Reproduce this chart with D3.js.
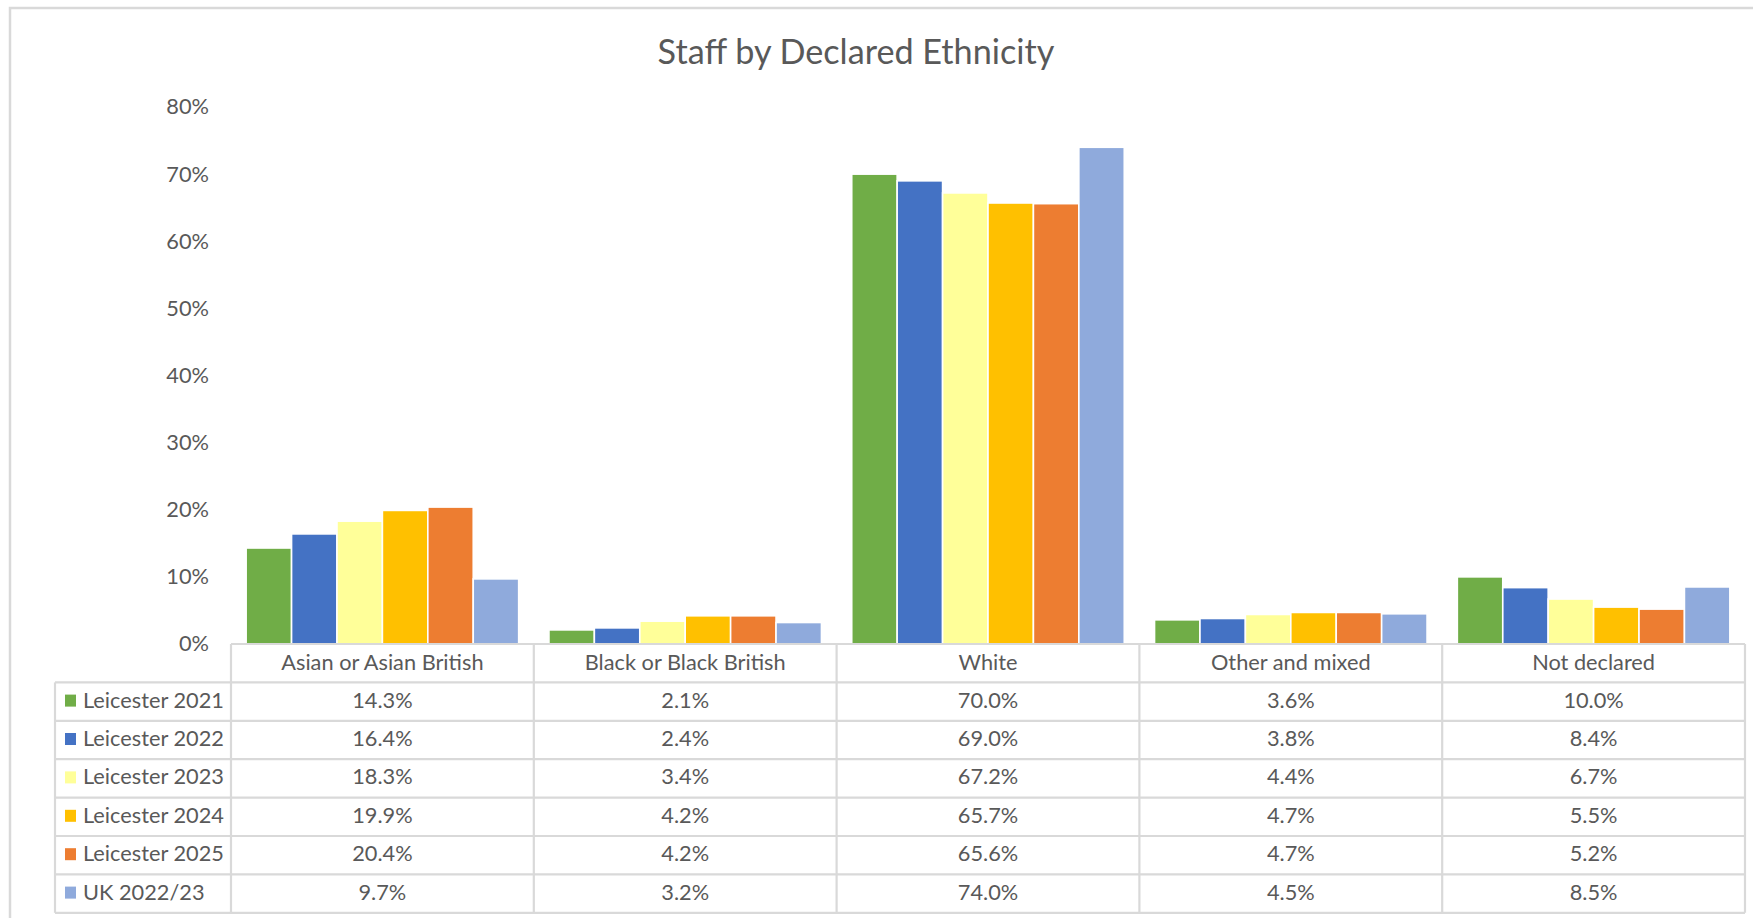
<!DOCTYPE html>
<html>
<head>
<meta charset="utf-8">
<script src="https://cdn.jsdelivr.net/npm/d3@7"></script>
<style>
  body { margin: 0; background: #fff; }
  svg { display: block; font-family: Lato, "Open Sans", sans-serif; }
</style>
</head>
<body>
<svg class="chart"></svg>
<script>
var categories = ["Asian or Asian British", "Black or Black British", "White", "Other and mixed", "Not declared"];
var seriesNames = ["Leicester 2021", "Leicester 2022", "Leicester 2023", "Leicester 2024", "Leicester 2025", "UK 2022/23"];
var leicester2021 = [14.3, 2.1, 70.0, 3.6, 10.0];
var leicester2022 = [16.4, 2.4, 69.0, 3.8, 8.4];
var leicester2023 = [18.3, 3.4, 67.2, 4.4, 6.7];
var leicester2024 = [19.9, 4.2, 65.7, 4.7, 5.5];
var leicester2025 = [20.4, 4.2, 65.6, 4.7, 5.2];
var uk2022 = [9.7, 3.2, 74.0, 4.5, 8.5];
var yTicks = [0, 10, 20, 30, 40, 50, 60, 70, 80];
var colors = ["#70ad47", "#4472c4", "#ffff99", "#ffc000", "#ed7d31", "#8faadc"];

var series = [leicester2021, leicester2022, leicester2023, leicester2024, leicester2025, uk2022];

var W = 1753, H = 918;
var plot = {left: 231, right: 1745, top: 107, bottom: 644};
var rowH = 38.4, legendLeft = 55;
var textCol = "#595959", gridCol = "#d9d9d9";

var svg = d3.select(".chart").attr("width", W).attr("height", H);

// pick font sizes so the text takes the same room as in the original
function fitSize(str, target) {
  var t = svg.append("text").style("font-size", "100px").text(str);
  var w = t.node().getComputedTextLength();
  t.remove();
  return 100 * target / w;
}
var fs = fitSize("Leicester 2021", 141);
var titleFs = fitSize("Staff by Declared Ethnicity", 397);

// outer chart border (right and bottom run off the picture)
svg.append("rect")
  .attr("x", 10).attr("y", 8)
  .attr("width", W + 20).attr("height", H + 20)
  .attr("fill", "none").attr("stroke", gridCol).attr("stroke-width", 2.5);

svg.append("text")
  .attr("x", 856).attr("y", 64)
  .attr("text-anchor", "middle")
  .attr("fill", textCol)
  .style("font-size", titleFs + "px")
  .text("Staff by Declared Ethnicity");

var x0 = d3.scaleBand().domain(categories)
  .range([plot.left, plot.right]).paddingInner(0.1).paddingOuter(0.05);
var x1 = d3.scaleBand().domain(d3.range(series.length))
  .range([0, x0.bandwidth()]);
var y = d3.scaleLinear().domain([0, 80]).range([plot.bottom, plot.top]);

// y axis, labels only
var yAxis = svg.append("g")
  .attr("transform", "translate(" + (plot.left - 10) + ",0)")
  .call(d3.axisLeft(y).tickValues(yTicks).tickSize(0).tickPadding(12)
    .tickFormat(function(d) { return d + "%"; }));
yAxis.select(".domain").remove();
yAxis.selectAll("text")
  .attr("fill", textCol)
  .style("font-size", fs + "px")
  .style("font-family", "Lato, sans-serif");

// bars
var groups = svg.selectAll(".cat")
  .data(categories)
  .enter().append("g")
  .attr("class", "cat")
  .attr("transform", function(d) { return "translate(" + x0(d) + ",0)"; });

groups.selectAll("rect")
  .data(function(d, ci) { return series.map(function(s, si) { return {si: si, v: s[ci]}; }); })
  .enter().append("rect")
  .attr("x", function(d) { return x1(d.si); })
  .attr("y", function(d) { return y(d.v); })
  .attr("width", x1.bandwidth())
  .attr("height", function(d) { return plot.bottom - y(d.v); })
  .attr("fill", function(d) { return colors[d.si]; })
  .attr("stroke", "#fff").attr("stroke-width", 1.6);

// data table under the plot
var step = x0.step();
var tbl = svg.append("g").attr("class", "table");
var lines = tbl.append("g")
  .attr("stroke", gridCol).attr("stroke-width", 2.2).attr("fill", "none");
var tableBottom = plot.bottom + rowH * (series.length + 1);

// horizontal lines
lines.append("line")
  .attr("x1", plot.left).attr("x2", plot.right)
  .attr("y1", plot.bottom).attr("y2", plot.bottom);
d3.range(1, series.length + 2).forEach(function(i) {
  lines.append("line")
    .attr("x1", legendLeft).attr("x2", plot.right)
    .attr("y1", plot.bottom + rowH * i).attr("y2", plot.bottom + rowH * i);
});
// vertical lines
lines.append("line")
  .attr("x1", legendLeft).attr("x2", legendLeft)
  .attr("y1", plot.bottom + rowH).attr("y2", tableBottom);
d3.range(categories.length + 1).forEach(function(i) {
  var xx = plot.left + step * i;
  if (i == categories.length) xx = plot.right;
  lines.append("line")
    .attr("x1", xx).attr("x2", xx)
    .attr("y1", plot.bottom).attr("y2", tableBottom);
});

var cellText = tbl.append("g")
  .attr("fill", textCol)
  .style("font-size", fs + "px")
  .attr("text-anchor", "middle")
  .attr("dominant-baseline", "central");

cellText.selectAll(".head")
  .data(categories)
  .enter().append("text")
  .attr("class", "head")
  .attr("x", function(d) { return x0(d) + x0.bandwidth() / 2; })
  .attr("y", plot.bottom + rowH / 2 - 1.5)
  .text(String);

series.forEach(function(s, si) {
  var ry = plot.bottom + rowH * (si + 1.5) - 2;
  cellText.selectAll(".v" + si)
    .data(s)
    .enter().append("text")
    .attr("x", function(d, ci) { return x0(categories[ci]) + x0.bandwidth() / 2; })
    .attr("y", ry)
    .text(function(d) { return d.toFixed(1) + "%"; });

  tbl.append("rect")
    .attr("x", 65).attr("y", ry - 5)
    .attr("width", 11).attr("height", 12)
    .attr("fill", colors[si]);
  tbl.append("text")
    .attr("x", 83).attr("y", ry)
    .attr("dominant-baseline", "central")
    .attr("fill", textCol)
    .style("font-size", fs + "px")
    .text(seriesNames[si]);
});
</script>
</body>
</html>
